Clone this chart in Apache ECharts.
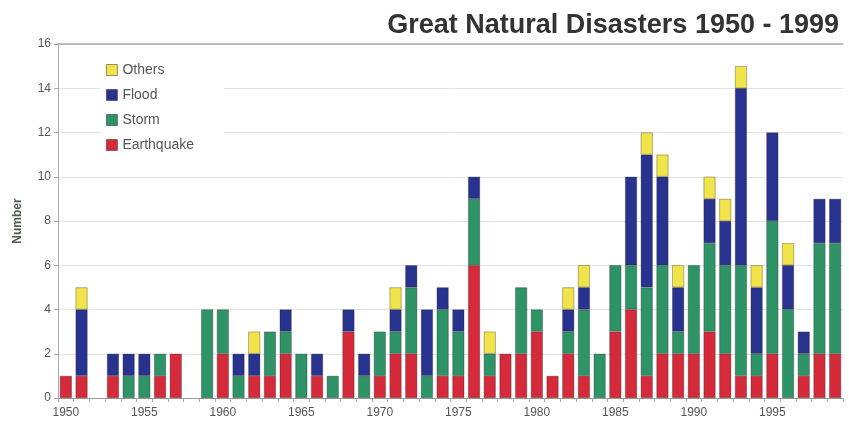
<!DOCTYPE html>
<html>
<head>
<meta charset="utf-8">
<script src="https://cdn.jsdelivr.net/npm/echarts@6/dist/echarts.min.js"></script>
<style>
html,body{margin:0;padding:0;background:#fff;}
#chart{width:849px;height:434px;}
</style>
</head>
<body>
<div id="chart"></div>
<script>
var years = [];
for (var y = 1950; y <= 1999; y++) years.push(String(y));

var earthquake = [1,1,0,1,0,0,1,2,0,0, 2,0,1,1,2,0,1,0,3,0, 1,2,2,0,1,1,6,1,2,2, 3,1,2,1,0,3,4,1,2,2, 2,3,2,1,1,2,0,1,2,2];
var storm      = [0,0,0,0,1,1,1,0,0,4, 2,1,0,2,1,2,0,1,0,1, 2,1,3,1,3,2,3,1,0,3, 1,0,1,3,2,3,2,4,4,1, 4,4,4,5,1,6,4,1,5,5];
var flood      = [0,3,0,1,1,1,0,0,0,0, 0,1,1,0,1,0,1,0,1,1, 0,1,1,3,1,1,1,0,0,0, 0,0,1,1,0,0,4,6,4,2, 0,2,2,8,3,4,2,1,2,2];
var others     = [0,1,0,0,0,0,0,0,0,0, 0,0,1,0,0,0,0,0,0,0, 0,1,0,0,0,0,0,1,0,0, 0,0,1,1,0,0,0,1,1,1, 0,1,1,1,1,0,1,0,0,0];

var seriesNames = ['Earthquake','Storm','Flood','Others'];
var seriesData = [earthquake, storm, flood, others];
var colors = ['#d42a3a','#2e9468','#28338f','#f0e44a'];

function toData(arr){ return arr.map(function(v){ return v === 0 ? '-' : v; }); }

var chart = echarts.init(document.getElementById('chart'));
var series = seriesNames.map(function(n, i){
  return {
    name: n, type: 'bar', stack: 'all',
    data: toData(seriesData[i]),
    barCategoryGap: '24%',
    itemStyle: { color: colors[i], borderColor: 'rgba(40,30,30,0.55)', borderWidth: 0.6 }
  };
});

chart.setOption({
  animation: false,
  backgroundColor: '#fff',
  title: {
    text: 'Great Natural Disasters 1950 - 1999',
    right: 5, top: 7,
    textStyle: { fontFamily: 'Liberation Sans Narrow, Liberation Sans, Arial', fontWeight: 'bold', fontSize: 27, color: '#333' }
  },
  legend: {
    data: ['Others','Flood','Storm','Earthquake'],
    orient: 'vertical',
    left: 100, top: 59,
    itemWidth: 11, itemHeight: 11, itemGap: 11,
    backgroundColor: '#fff',
    padding: [4, 30, 4, 6],
    icon: 'rect',
    textStyle: { fontFamily: 'Liberation Sans, Arial', fontSize: 14, color: '#555' },
    itemStyle: { borderColor: 'rgba(40,30,30,0.6)', borderWidth: 0.8 }
  },
  grid: { left: 58, right: 6, top: 44, bottom: 36 },
  xAxis: [{
    type: 'category', data: years,
    axisLine: { lineStyle: { color: '#999' } },
    axisTick: { show: true, alignWithLabel: false, interval: 0, length: 4, lineStyle: { color: '#aaa' } },
    axisLabel: { interval: 4, color: '#555', fontSize: 12, fontFamily: 'Liberation Sans, Arial', margin: 9 }
  }, {
    type: 'category', data: years, position: 'top',
    axisLine: { show: true, lineStyle: { color: '#aaa', width: 1.5 } },
    axisTick: { show: false }, axisLabel: { show: false }
  }],
  yAxis: {
    type: 'value', min: 0, max: 16, interval: 2,
    name: 'Number', nameLocation: 'middle', nameGap: 34, nameRotate: 90,
    nameTextStyle: { color: '#4d5e4d', fontWeight: 'bold', fontSize: 12, fontFamily: 'Liberation Sans, Arial' },
    axisLine: { show: true, lineStyle: { color: '#aaa' } },
    axisTick: { show: true, length: 4, lineStyle: { color: '#aaa' } },
    axisLabel: { color: '#555', fontSize: 12, fontFamily: 'Liberation Sans, Arial', margin: 7 },
    splitLine: { lineStyle: { color: '#e4e4e4' } }
  },
  series: series
});
</script>
</body>
</html>
